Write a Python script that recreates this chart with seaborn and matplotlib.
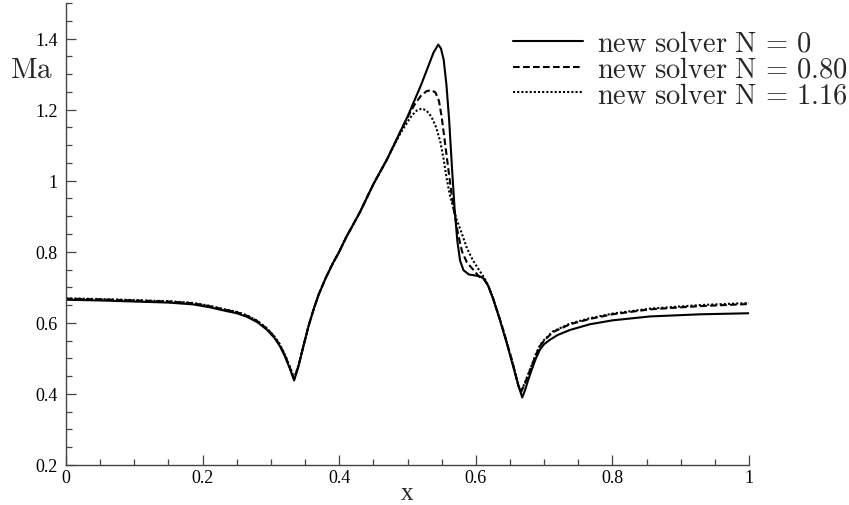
import numpy as np
import pandas as pd
import matplotlib
matplotlib.use("Agg")
import matplotlib.pyplot as plt
from matplotlib.ticker import MultipleLocator, FuncFormatter
import seaborn as sns

# ---------------- data ----------------
x_n0 = [0.0, 0.05, 0.10, 0.15, 0.186, 0.21, 0.235, 0.25, 0.265, 0.28, 0.294,
        0.305, 0.313, 0.320, 0.327, 0.334, 0.340, 0.347, 0.355, 0.362, 0.370,
        0.380, 0.390, 0.400, 0.410, 0.420, 0.430, 0.440, 0.450, 0.460, 0.470,
        0.480, 0.490, 0.500, 0.510, 0.520, 0.530, 0.538, 0.545, 0.549, 0.553,
        0.557, 0.561, 0.565, 0.569, 0.573, 0.577, 0.582, 0.590, 0.600, 0.607,
        0.612, 0.618, 0.625, 0.635, 0.645, 0.655, 0.663, 0.668, 0.672, 0.676,
        0.682, 0.688, 0.694, 0.700, 0.709, 0.720, 0.738, 0.767, 0.800, 0.855,
        0.928, 1.0]
ma_n0 = [0.665, 0.663, 0.660, 0.657, 0.652, 0.644, 0.633, 0.627, 0.617, 0.602, 0.581,
         0.558, 0.535, 0.508, 0.475, 0.438, 0.475, 0.530, 0.590, 0.635, 0.680,
         0.725, 0.765, 0.800, 0.840, 0.875, 0.910, 0.950, 0.990, 1.025, 1.060,
         1.100, 1.140, 1.180, 1.225, 1.270, 1.320, 1.360, 1.383, 1.372, 1.340,
         1.270, 1.170, 1.040, 0.920, 0.830, 0.775, 0.748, 0.736, 0.733, 0.730,
         0.724, 0.705, 0.670, 0.610, 0.545, 0.475, 0.420, 0.390, 0.410, 0.435,
         0.469, 0.500, 0.525, 0.540, 0.553, 0.566, 0.580, 0.596, 0.607, 0.618,
         0.624, 0.627]

x_n080 = [0.0, 0.05, 0.10, 0.15, 0.186, 0.21, 0.235, 0.25, 0.265, 0.28, 0.294,
          0.305, 0.313, 0.320, 0.327, 0.334, 0.340, 0.347, 0.355, 0.362, 0.370,
          0.380, 0.390, 0.400, 0.410, 0.420, 0.430, 0.440, 0.450, 0.460, 0.470,
          0.480, 0.490, 0.500, 0.510, 0.520, 0.528, 0.535, 0.541, 0.546, 0.550,
          0.554, 0.558, 0.562, 0.567, 0.574, 0.580, 0.587, 0.596, 0.605, 0.612,
          0.618, 0.625, 0.635, 0.645, 0.655, 0.662, 0.666, 0.672, 0.680, 0.688,
          0.694, 0.700, 0.713, 0.738, 0.767, 0.800, 0.855, 0.928, 1.0]
ma_n080 = [0.668, 0.666, 0.663, 0.660, 0.655, 0.647, 0.636, 0.630, 0.620, 0.605, 0.584,
           0.561, 0.538, 0.511, 0.478, 0.442, 0.477, 0.530, 0.590, 0.635, 0.680,
           0.725, 0.765, 0.800, 0.840, 0.875, 0.910, 0.950, 0.990, 1.025, 1.060,
           1.100, 1.140, 1.178, 1.213, 1.240, 1.252, 1.255, 1.248, 1.225, 1.180,
           1.120, 1.060, 1.000, 0.927, 0.850, 0.800, 0.770, 0.750, 0.730, 0.722,
           0.705, 0.670, 0.612, 0.548, 0.480, 0.425, 0.404, 0.430, 0.470, 0.510,
           0.535, 0.550, 0.574, 0.596, 0.611, 0.624, 0.638, 0.647, 0.653]

x_n116 = [0.0, 0.05, 0.10, 0.15, 0.186, 0.21, 0.235, 0.25, 0.265, 0.28, 0.294,
          0.305, 0.313, 0.320, 0.327, 0.334, 0.340, 0.347, 0.355, 0.362, 0.370,
          0.380, 0.390, 0.400, 0.410, 0.420, 0.430, 0.440, 0.450, 0.460, 0.470,
          0.480, 0.490, 0.500, 0.507, 0.514, 0.521, 0.528, 0.535, 0.542, 0.548,
          0.553, 0.557, 0.562, 0.567, 0.572, 0.577, 0.587, 0.596, 0.605, 0.612,
          0.618, 0.625, 0.635, 0.645, 0.655, 0.662, 0.666, 0.672, 0.680, 0.688,
          0.694, 0.700, 0.713, 0.738, 0.767, 0.800, 0.855, 0.928, 1.0]
ma_n116 = [0.669, 0.667, 0.664, 0.661, 0.656, 0.648, 0.637, 0.631, 0.621, 0.606, 0.585,
           0.562, 0.540, 0.513, 0.480, 0.445, 0.478, 0.530, 0.590, 0.635, 0.680,
           0.725, 0.765, 0.800, 0.840, 0.875, 0.910, 0.950, 0.990, 1.025, 1.060,
           1.098, 1.135, 1.165, 1.185, 1.198, 1.203, 1.197, 1.180, 1.150, 1.110,
           1.060, 1.010, 0.960, 0.925, 0.890, 0.865, 0.810, 0.775, 0.748, 0.728,
           0.706, 0.670, 0.612, 0.548, 0.480, 0.427, 0.406, 0.432, 0.472, 0.512,
           0.537, 0.552, 0.576, 0.598, 0.613, 0.626, 0.640, 0.650, 0.656]

labels = [r"$\mathrm{new\ solver\ N}\,=\,0$",
          r"$\mathrm{new\ solver\ N}\,=\,0.80$",
          r"$\mathrm{new\ solver\ N}\,=\,1.16$"]

x_ticks = [0, 0.2, 0.4, 0.6, 0.8, 1.0]
y_ticks = [0.2, 0.4, 0.6, 0.8, 1.0, 1.2, 1.4]

# ---------------- style ----------------
sns.set_theme(style="ticks")
plt.rcParams["font.family"] = ["Liberation Serif", "DejaVu Serif"]
plt.rcParams["mathtext.fontset"] = "cm"

fig = plt.figure(figsize=(8.49, 5.06), dpi=100)
ax = fig.add_axes([66 / 849, 1 - 466 / 506, 683 / 849, 462 / 506])

series = [(x_n0, ma_n0, "-", labels[0]),
          (x_n080, ma_n080, (0, (3.2, 1.6)), labels[1]),
          (x_n116, ma_n116, (0, (1.0, 1.0)), labels[2])]
for xs, ys, ls, lab in series:
    df = pd.DataFrame({"x": xs, "Ma": ys})
    sns.lineplot(data=df, x="x", y="Ma", ax=ax, color="black", linewidth=1.5,
                 linestyle=ls, label=lab, sort=False, estimator=None)

ax.set_xlim(0, 1)
ax.set_ylim(0.2, 1.5)
ax.set_xticks(x_ticks)
ax.set_yticks(y_ticks)
ax.xaxis.set_minor_locator(MultipleLocator(0.05))
ax.yaxis.set_minor_locator(MultipleLocator(0.05))
fmt = FuncFormatter(lambda v, p: "%g" % round(v, 2))
ax.xaxis.set_major_formatter(fmt)
ax.yaxis.set_major_formatter(fmt)

for s in ["top", "right"]:
    ax.spines[s].set_visible(False)
for s in ["left", "bottom"]:
    ax.spines[s].set_color("#444444")
    ax.spines[s].set_linewidth(1.0)

ax.tick_params(which="major", direction="in", length=7, width=0.9,
               color="#444444", labelsize=13, labelcolor="black")
ax.tick_params(which="minor", direction="in", length=4.2, width=0.9, color="#444444")
ax.tick_params(axis="y", which="major", pad=6)
ax.tick_params(axis="x", which="major", pad=3)

ax.set_xlabel("x", fontsize=18)
ax.xaxis.set_label_coords(0.5, -0.036)
ax.xaxis.label.set_va("top")
ax.set_ylabel(r"$\mathrm{Ma}$", fontsize=21, rotation=0)
ax.yaxis.set_label_coords(-0.05, 0.855)
ax.yaxis.label.set_va("center")
ax.yaxis.label.set_ha("center")

leg = ax.legend(loc="upper right", bbox_to_anchor=(0.999, 1 - 32 / 506),
                bbox_transform=fig.transFigure, frameon=False,
                fontsize=20.5, handlelength=2.46, handletextpad=0.5,
                labelspacing=-0.01, borderaxespad=0.0, borderpad=0.0)
for line in leg.get_lines():
    line.set_linewidth(1.5)

fig.savefig("out.png", dpi=100)
